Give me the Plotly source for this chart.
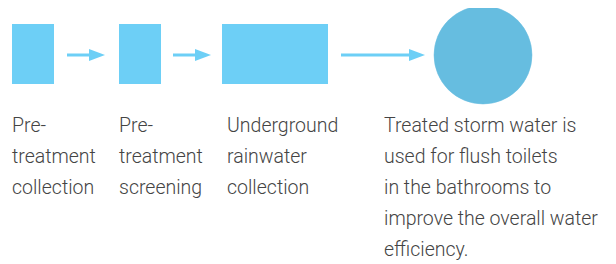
import plotly.graph_objects as go

# Data: flow steps and their label lines
step_names = ["Pre-treatment collection", "Pre-treatment screening",
              "Underground rainwater collection", "Flush toilets"]
step_shapes = ["rect", "rect", "rect", "circle"]
label_lines = [
    ["Pre-", "treatment", "collection"],
    ["Pre-", "treatment", "screening"],
    ["Underground", "rainwater", "collection"],
    ["Treated storm water is", "used for flush toilets", "in the bathrooms to",
     "improve the overall water", "efficiency."],
]

# Layout geometry (pixel-like coordinates of the 616x264 window)
W, H = 616, 264
PAGE_OFFSET = 8  # default body margin of the html page
box_x = [(12, 54), (119, 161), (222, 328), (434, 532)]
box_y = (24, 84)
circle_y = (6, 104)
arrow_x = [(67, 105), (173, 211), (341, 425)]
arrow_y = 55
text_x = [10, 117, 225, 382]
base0, line_gap = 130, 31

RECT_COLOR = "#6DCFF6"
CIRC_COLOR = "#66BDE0"
TEXT_COLOR = "#444444"

fig = go.Figure()
shapes = []
for (x0, x1), kind in zip(box_x, step_shapes):
    if kind == "rect":
        shapes.append(dict(type="rect", x0=x0, x1=x1, y0=box_y[0], y1=box_y[1],
                           xref="x", yref="y", fillcolor=RECT_COLOR, line_width=0))
    else:
        shapes.append(dict(type="circle", x0=x0, x1=x1, y0=circle_y[0], y1=circle_y[1],
                           xref="x", yref="y", fillcolor=CIRC_COLOR,
                           line=dict(color=CIRC_COLOR, width=0.5)))

for (ax0, ax1) in arrow_x:
    head_len = 16
    shapes.append(dict(type="line", x0=ax0, x1=ax1 - head_len + 2, y0=arrow_y, y1=arrow_y,
                       xref="x", yref="y", line=dict(color=RECT_COLOR, width=3)))
    hx = ax1 - head_len
    shapes.append(dict(type="path",
                       path=f"M {hx} {arrow_y-6} L {ax1} {arrow_y} L {hx} {arrow_y+6} Z",
                       xref="x", yref="y", fillcolor=RECT_COLOR, line_width=0))

annotations = []
for tx, lines in zip(text_x, label_lines):
    for i, line in enumerate(lines):
        annotations.append(dict(x=tx, y=base0 + i * line_gap - 5, xref="x", yref="y",
                                text=line, showarrow=False, xanchor="left", yanchor="middle",
                                font=dict(family="Roboto", size=19.5, color=TEXT_COLOR, weight=300)))

fig.update_layout(
    width=W - PAGE_OFFSET, height=H - PAGE_OFFSET, margin=dict(l=0, r=0, t=0, b=0),
    paper_bgcolor="white", plot_bgcolor="white",
    xaxis=dict(range=[PAGE_OFFSET, W], visible=False, fixedrange=True),
    yaxis=dict(range=[H, PAGE_OFFSET], visible=False, fixedrange=True),
    shapes=shapes, annotations=annotations, showlegend=False,
)
fig.add_trace(go.Scatter(x=[None], y=[None], hoverinfo="skip", name=step_names[0]))
fig.write_html("out.html")
